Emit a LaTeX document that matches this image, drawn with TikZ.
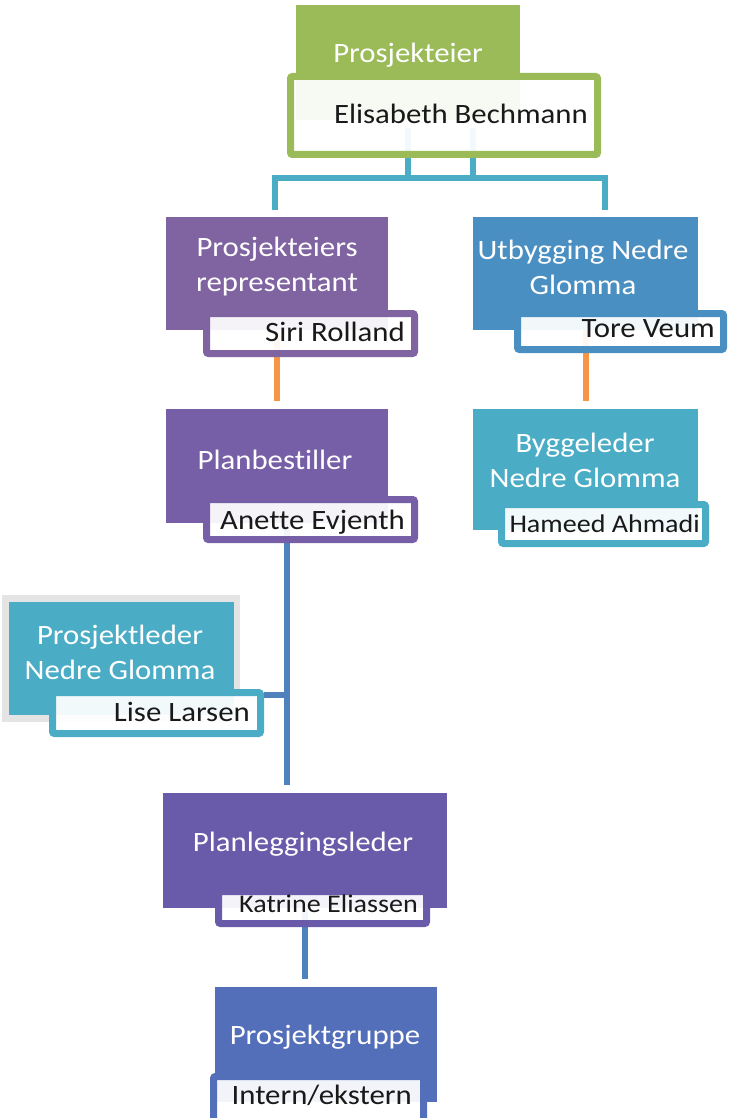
\documentclass[tikz,border=0pt]{standalone}
\usepackage{fontspec}
\setmainfont[FakeStretch=1.1,Ligatures=NoCommon]{Carlito}
\usetikzlibrary{backgrounds}
\definecolor{cGreen}{HTML}{9BBB59}
\definecolor{cCyan}{HTML}{4BACC6}
\definecolor{cBlueLine}{HTML}{4F81BD}
\definecolor{cOrange}{HTML}{F79646}
\definecolor{cPurpleA}{HTML}{8063A1}
\definecolor{cPurpleB}{HTML}{765FA7}
\definecolor{cPurpleC}{HTML}{6A5BAA}
\definecolor{cBlueG}{HTML}{546FB9}
\definecolor{cBlueU}{HTML}{4A8FC1}
\definecolor{cGrey}{HTML}{E4E4E4}
\begin{document}
\begin{tikzpicture}[x=1pt,y=-1pt,
  box/.style={rectangle, inner sep=0pt, draw=none},
  namebox/.style={rectangle, inner sep=0pt, fill=white, fill opacity=0.93, line width=7pt, rounded corners=2pt},
  ttl/.style={text=white, align=center, font=\fontsize{28}{35}\selectfont, inner sep=0pt},
  nm/.style={text=black!90, font=\fontsize{28}{34}\selectfont, inner sep=0pt, anchor=base east},
  nmsmall/.style={nm, font=\fontsize{25.5}{30}\selectfont},
  conn/.style={line width=6pt}]
\useasboundingbox (0,0) rectangle (728,1118);
\clip (0,0) rectangle (728,1118);

% title boxes
\node[box, fill=cGreen, minimum width=224pt, minimum height=115pt] (pe) at (408,62.5) {};
\node[box, fill=cPurpleA, minimum width=222pt, minimum height=113pt] (pr) at (277,273.5) {};
\node[box, fill=cBlueU, minimum width=225pt, minimum height=113pt] (ut) at (585.5,273.5) {};
\node[box, fill=cPurpleB, minimum width=222pt, minimum height=114pt] (pb) at (277,466) {};
\node[box, fill=cCyan, minimum width=225pt, minimum height=121pt] (bg) at (585.5,469.5) {};
\node[box, fill=cGrey, minimum width=238pt, minimum height=127pt] (plg) at (121,658.5) {};
\node[box, fill=cCyan, minimum width=225pt, minimum height=113pt] (pld) at (121.5,658.5) {};
\node[box, fill=cPurpleC, minimum width=284pt, minimum height=115pt] (pl) at (305,850.5) {};
\node[box, fill=cBlueG, minimum width=222pt, minimum height=115pt] (pg) at (326,1044.5) {};

% name boxes
\node[namebox, draw=cGreen, minimum width=307pt, minimum height=78pt] (pen) at (444,115.5) {};
\node[namebox, draw=cPurpleA, minimum width=208pt, minimum height=40pt] (prn) at (310.5,333.5) {};
\node[namebox, draw=cBlueU, minimum width=206pt, minimum height=36pt] (utn) at (620.5,331.5) {};
\node[namebox, draw=cPurpleB, minimum width=208pt, minimum height=40pt] (pbn) at (310.5,519.5) {};
\node[namebox, draw=cCyan, minimum width=204pt, minimum height=39pt] (bgn) at (603.5,524) {};
\node[namebox, draw=cCyan, minimum width=208pt, minimum height=41pt] (pldn) at (156.5,713) {};
\node[namebox, draw=cPurpleC, minimum width=208pt, minimum height=32pt] (pln) at (322.5,907.5) {};
\node[namebox, draw=cBlueG, minimum width=210pt, minimum height=45pt] (pgn) at (318.5,1099) {};

% titles
\node[ttl] (pet) at (408,55) {Prosjekteier};
\node[ttl] (prt) at (277,267) {Prosjekteiers\\representant};
\node[ttl] (utt) at (583,267) {Utbygging Nedre\\Glomma};
\node[ttl] (pbt) at (275,460) {Planbestiller};
\node[ttl] (bgt) at (585,460) {Byggeleder\\Nedre Glomma};
\node[ttl] (pldt) at (120,652) {Prosjektleder\\Nedre Glomma};
\node[ttl] (plt) at (303,844) {Planleggingsleder};
\node[ttl] (pgt) at (325,1037) {Prosjektgruppe};

% names
\node[nm] (pename) at (588,124) {Elisabeth Bechmann};
\node[nm] (prname) at (405,341) {Siri Rolland};
\node[nm] (utname) at (715,337) {Tore Veum};
\node[nm] (pbname) at (405,529) {Anette Evjenth};
\node[nmsmall] (bgname) at (700,532) {Hameed Ahmadi};
\node[nm] (pldname) at (250,721) {Lise Larsen};
\node[nmsmall] (plname) at (418,912) {Katrine Eliassen};
\node[nm] (pgname) at (412,1104) {Intern/ekstern};

% connectors (behind)
\coordinate (peA) at (408,128);
\coordinate (peB) at (473,128);
\coordinate (busL) at (275,178);
\coordinate (busR) at (605,178);
\coordinate (trunk) at (287,0);
\coordinate (lj) at (264,695);
\begin{pgfonlayer}{background}
\draw[conn, cCyan] (peA) -- (peA |- busL);
\draw[conn, cCyan] (peB) -- (peB |- busL);
\draw[conn, cCyan] ([yshift=7pt]pr.north -| busL) -- (busL) -- (busR) -- ([yshift=7pt]ut.north -| busR);
\draw[conn, cOrange] (pr.south) -- ([yshift=8pt]pb.north);
\draw[conn, cOrange] (ut.south) -- ([yshift=8pt]bg.north);
\draw[conn, cBlueLine] (pb.south -| trunk) -- ([yshift=8pt]pl.north -| trunk);
\draw[conn, cBlueLine] (lj) -- (lj -| trunk);
\draw[conn, cBlueLine] (pl.south) -- ([yshift=8pt]pg.north -| pl.south);
\end{pgfonlayer}
\end{tikzpicture}
\end{document}
